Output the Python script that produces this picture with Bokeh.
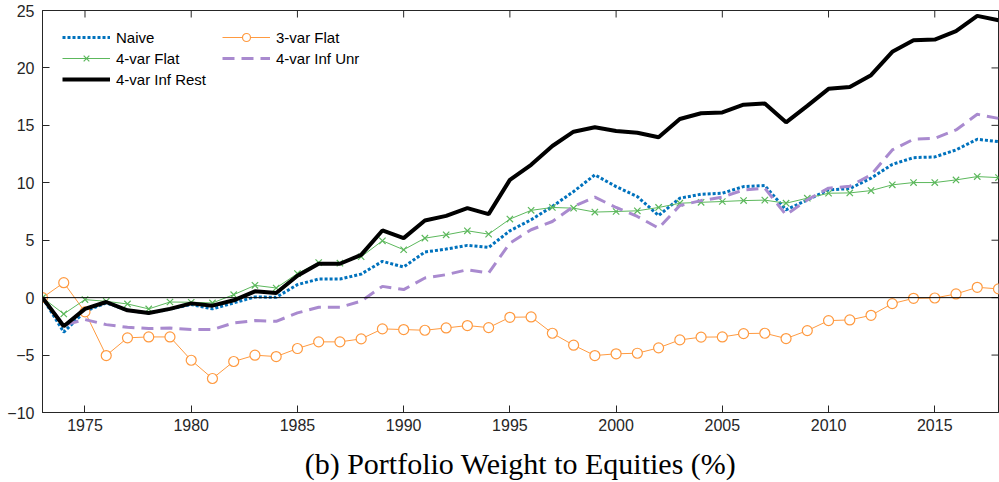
import math

from bokeh.plotting import figure
from bokeh.models import (ColumnDataSource, FixedTicker, LinearAxis, Span,
                          Legend, LegendItem, Range1d)
from bokeh.embed import file_html
from bokeh.resources import INLINE

# Annual portfolio weight to equities (%) for each strategy
years = list(range(1973, 2019))

naive = [0, -3.0, -1.19, -0.46, -1.1, -1.35, -1.0, -0.6, -0.98, -0.46,
         0.06, 0.03, 1.13, 1.62, 1.62, 2.05, 3.16, 2.67, 3.97, 4.23,
         4.55, 4.37, 5.82, 6.78, 7.94, 9.24, 10.69, 9.67, 8.8, 7.15,
         8.66, 9.0, 9.09, 9.67, 9.76, 7.65, 8.51, 9.38, 9.5, 10.4,
         11.6, 12.19, 12.25, 12.86, 13.79, 13.58]

flat3 = [0, 1.3, -1.24, -5.04, -3.5, -3.42, -3.42, -5.45, -7.04, -5.56,
         -5.01, -5.13, -4.43, -3.85, -3.85, -3.59, -2.72, -2.78, -2.84, -2.64,
         -2.43, -2.61, -1.71, -1.68, -3.1, -4.14, -5.04, -4.89, -4.84, -4.37,
         -3.68, -3.44, -3.42, -3.13, -3.1, -3.56, -2.87, -2.0, -1.94, -1.54,
         -0.52, -0.06, -0.03, 0.32, 0.9, 0.76]

flat4 = [0, -1.42, -0.17, -0.32, -0.55, -0.98, -0.38, -0.4, -0.46, 0.26,
         1.07, 0.84, 2.1, 3.05, 3.0, 3.56, 4.95, 4.17, 5.18, 5.47,
         5.82, 5.53, 6.84, 7.6, 7.85, 7.79, 7.45, 7.5, 7.56, 7.85,
         8.22, 8.3, 8.37, 8.45, 8.49, 8.22, 8.66, 9.09, 9.12, 9.32,
         9.82, 10.02, 10.02, 10.25, 10.54, 10.45]

inf_unr = [0, -2.4, -1.91, -2.35, -2.58, -2.69, -2.64, -2.78, -2.78, -2.2,
           -2.0, -2.06, -1.33, -0.84, -0.84, -0.3, 0.98, 0.7, 1.71, 2.0,
           2.43, 2.14, 4.75, 5.91, 6.63, 7.94, 8.75, 7.85, 7.07, 6.05,
           8.02, 8.45, 8.75, 9.38, 9.53, 7.21, 8.51, 9.53, 9.7, 10.69,
           12.86, 13.79, 13.87, 14.6, 15.96, 15.61]

inf_rest = [0, -2.49, -0.98, -0.38, -1.1, -1.33, -0.98, -0.5, -0.7, -0.23,
            0.55, 0.41, 1.91, 2.95, 2.95, 3.72, 5.85, 5.18, 6.72, 7.12,
            7.79, 7.27, 10.25, 11.56, 13.2, 14.45, 14.83, 14.51, 14.36, 13.96,
            15.55, 16.05, 16.13, 16.8, 16.9, 15.26, 16.7, 18.18, 18.33, 19.37,
            21.4, 22.4, 22.47, 23.2, 24.53, 24.15]

x_ticks = [1975, 1980, 1985, 1990, 1995, 2000, 2005, 2010, 2015]
y_ticks = [-10, -5, 0, 5, 10, 15, 20, 25]

X_MIN, X_MAX = 1973, 2018
Y_MIN, Y_MAX = -10, 25

src = ColumnDataSource(dict(year=years, naive=naive, flat3=flat3, flat4=flat4,
                            inf_unr=inf_unr, inf_rest=inf_rest))

AXIS_COLOR = "#262626"
TICK_FONT = "Liberation Sans"

p = figure(width=999, height=482, output_backend="svg", toolbar_location=None,
           x_range=Range1d(X_MIN, X_MAX), y_range=Range1d(Y_MIN, Y_MAX),
           x_axis_location=None, y_axis_location=None,
           min_border_left=42, min_border_right=1, min_border_top=10,
           min_border_bottom=0)
p.xgrid.visible = False
p.ygrid.visible = False
p.outline_line_color = AXIS_COLOR
p.background_fill_color = "white"
p.border_fill_color = "white"


def style_axis(ax):
    ax.axis_line_color = AXIS_COLOR
    ax.major_tick_line_color = AXIS_COLOR
    ax.major_tick_in = 7
    ax.major_tick_out = 0
    ax.minor_tick_line_color = None
    ax.major_label_text_font = TICK_FONT
    ax.major_label_text_color = AXIS_COLOR
    ax.major_label_text_font_size = "16px"


xb = LinearAxis(ticker=FixedTicker(ticks=x_ticks))
style_axis(xb)
xb.major_label_standoff = 6
xb.axis_label = "(b) Portfolio Weight to Equities (%)"
xb.axis_label_text_font = "Liberation Serif"
xb.axis_label_text_font_style = "normal"
xb.axis_label_text_font_size = "30px"
xb.axis_label_text_color = "black"
xb.axis_label_standoff = 13
p.add_layout(xb, "below")

yl = LinearAxis(ticker=FixedTicker(ticks=y_ticks))
style_axis(yl)
yl.major_label_standoff = 8
p.add_layout(yl, "left")

# inward ticks along the top and right edges of the box (clipped to the frame)
p.scatter(x=x_ticks, y=[Y_MAX] * len(x_ticks), marker="dash", size=14,
          angle=math.pi / 2, line_color=AXIS_COLOR, line_width=1)
p.scatter(x=[X_MAX] * len(y_ticks), y=y_ticks, marker="dash", size=14,
          line_color=AXIS_COLOR, line_width=1)

# zero reference line
p.add_layout(Span(location=0, dimension="width", line_color="black",
                  line_width=1))

r_naive = p.line("year", "naive", source=src, line_color="#0072BD",
                 line_width=3, line_dash="3 2")
r_f3 = p.line("year", "flat3", source=src, line_color="#FF9A40", line_width=1)
r_f3m = p.scatter("year", "flat3", source=src, marker="circle", size=10,
                  line_color="#FF9A40", fill_color="white", line_width=1.2)
r_f4 = p.line("year", "flat4", source=src, line_color="#5CB85C", line_width=1)
r_f4m = p.scatter("year", "flat4", source=src, marker="x", size=9,
                  line_color="#5CB85C", line_width=1.2)
r_unr = p.line("year", "inf_unr", source=src, line_color="#A98ACF",
               line_width=3, line_dash="12 7")
r_rest = p.line("year", "inf_rest", source=src, line_color="black",
                line_width=4)


def make_legend(items, x, y):
    leg = Legend(items=items, location=(x, y), orientation="vertical",
                 glyph_width=48, glyph_height=20, label_height=20,
                 spacing=1, padding=0, margin=0, label_standoff=6,
                 label_text_font=TICK_FONT, label_text_font_size="15px",
                 label_text_color="black", border_line_color=None,
                 background_fill_alpha=0)
    return leg


leg_left = make_legend([
    LegendItem(label="Naive", renderers=[r_naive]),
    LegendItem(label="4-var Flat", renderers=[r_f4, r_f4m]),
    LegendItem(label="4-var Inf Rest", renderers=[r_rest]),
], 20, 323)
leg_right = make_legend([
    LegendItem(label="3-var Flat", renderers=[r_f3, r_f3m]),
    LegendItem(label="4-var Inf Unr", renderers=[r_unr]),
], 180, 344)
p.add_layout(leg_left)
p.add_layout(leg_right)

open("out.html", "w").write(file_html(p, INLINE))
